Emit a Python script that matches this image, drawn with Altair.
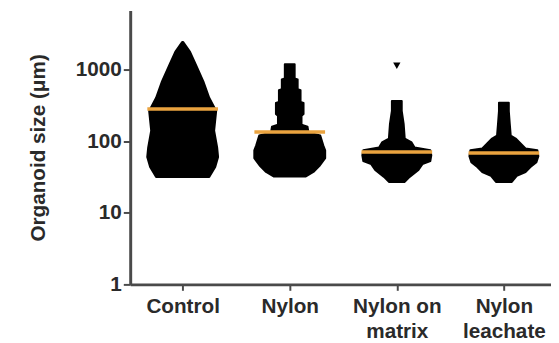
import json
import altair as alt
import pandas as pd

categories = ["Control", "Nylon", "Nylon on matrix", "Nylon leachate"]
label_lines = [["Control"], ["Nylon"], ["Nylon on", "matrix"], ["Nylon", "leachate"]]

# swarm outline: organoid size (µm) levels and relative spread of points at each level
control_size = [2427, 1768, 1200, 684, 404, 264, 140, 81.9, 60.0, 43.5, 31.7]
control_spread = [0.005, 0.069, 0.12, 0.193, 0.248, 0.313, 0.294, 0.322, 0.331, 0.304, 0.248]

nylon_size = [1188, 752, 729, 531, 514, 352, 341, 240, 226, 170, 159, 132, 120, 87.3, 74.5, 57.8, 44.9, 37.1, 32.0]
nylon_spread = [0.046, 0.046, 0.074, 0.074, 0.101, 0.101, 0.129, 0.129, 0.11, 0.11, 0.166, 0.175,
                0.285, 0.313, 0.331, 0.331, 0.276, 0.221, 0.147]

matrix_size = [363, 264, 175, 109, 96, 81.9, 74.5, 63.6, 52.6, 47.8, 39.5, 31.7, 27.0]
matrix_spread = [0.046, 0.046, 0.064, 0.074, 0.138, 0.166, 0.313, 0.322, 0.313, 0.239, 0.202, 0.12, 0.074]

leachate_size = [344, 264, 175, 120, 109, 93, 79.4, 74.5, 61.6, 50.9, 43.5, 37.1, 32.7, 27.0]
leachate_spread = [0.046, 0.046, 0.055, 0.064, 0.11, 0.156, 0.202, 0.313, 0.322, 0.304, 0.248, 0.202, 0.12, 0.074]

medians = [282, 134, 70.6, 68.4]

outlier_group = ["Nylon on matrix"]
outlier_value = [1130]

rows = []
for g, sizes, spreads in zip(
    categories,
    [control_size, nylon_size, matrix_size, leachate_size],
    [control_spread, nylon_spread, matrix_spread, leachate_spread],
):
    for s, w in zip(sizes, spreads):
        rows.append({"group": g, "pos": categories.index(g), "size": s, "spread": w})
swarm_df = pd.DataFrame(rows).sort_values(["pos", "size"]).reset_index(drop=True)

median_df = pd.DataFrame({"group": categories, "pos": list(range(len(categories))), "median": medians})
outlier_df = pd.DataFrame({"group": outlier_group,
                           "pos": [categories.index(g) for g in outlier_group],
                           "value": outlier_value})

label_expr = json.dumps(label_lines) + "[datum.value]"

FONT = "Liberation Sans"
AXIS_COLOR = "#4a4a4a"
TEXT_COLOR = "#2a2a2a"

xscale = alt.Scale(domain=[-0.49, 3.44], nice=False, zero=False)
yscale = alt.Scale(type="log", domain=[1, 6700], nice=False)

x_axis = alt.Axis(
    values=[0, 1, 2, 3], labelExpr=label_expr, title=None, grid=False,
    domainColor=AXIS_COLOR, domainWidth=3, tickColor=AXIS_COLOR, tickWidth=2, tickSize=6,
    labelPadding=6, labelLineHeight=25, labelFont=FONT, labelFontWeight="bold",
    labelFontSize=21, labelColor=TEXT_COLOR, labelBaseline="top",
)
y_axis = alt.Axis(
    values=[1, 10, 100, 1000], format="d", title="Organoid size (μm)", grid=False,
    domainColor=AXIS_COLOR, domainWidth=3, tickColor=AXIS_COLOR, tickWidth=2, tickSize=7,
    labelPadding=2, labelFont=FONT, labelFontWeight="bold", labelFontSize=21,
    labelColor=TEXT_COLOR, titleFont=FONT, titleFontWeight="bold", titleFontSize=21,
    titleColor=TEXT_COLOR, titlePadding=27,
)

swarm = alt.Chart(swarm_df).transform_calculate(
    x0="datum.pos - datum.spread", x1="datum.pos + datum.spread"
).mark_area(orient="horizontal", color="black", stroke="black", strokeWidth=2,
            strokeJoin="round", opacity=1).encode(
    y=alt.Y("size:Q", scale=yscale, axis=y_axis),
    x=alt.X("x0:Q", scale=xscale, axis=x_axis),
    x2="x1:Q",
    detail="group:N",
)

median_rules = alt.Chart(median_df).transform_calculate(
    x0="datum.pos - 0.33", x1="datum.pos + 0.33"
).mark_rule(color="#eaa33f", strokeWidth=3.5).encode(
    y=alt.Y("median:Q", scale=yscale),
    x=alt.X("x0:Q", scale=xscale),
    x2="x1:Q",
)

outliers = alt.Chart(outlier_df).mark_point(
    shape="triangle-down", filled=True, color="black", size=55, opacity=1
).encode(
    x=alt.X("pos:Q", scale=xscale),
    y=alt.Y("value:Q", scale=yscale),
)

chart = alt.layer(swarm, median_rules, outliers).properties(
    width=427, height=278, autosize="none",
    padding={"left": 124, "top": 0, "right": 0, "bottom": 57},
).configure_view(stroke=None)

chart.save("out.html", embed_options={"renderer": "svg", "actions": False})
